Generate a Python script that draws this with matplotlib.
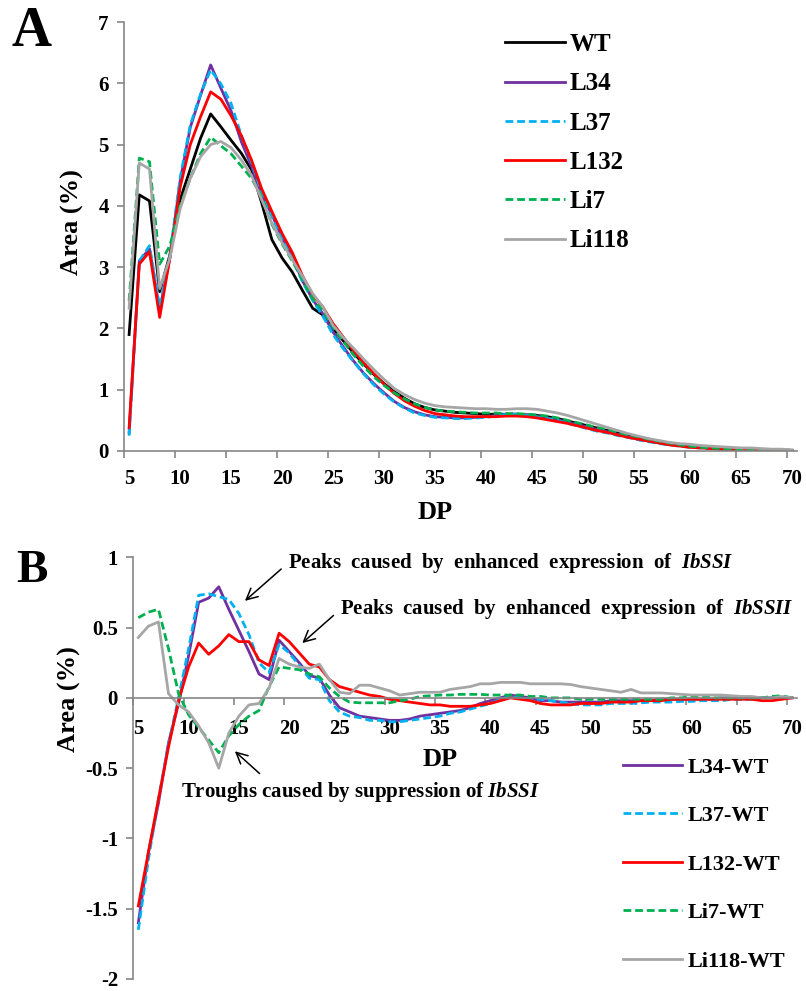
"""Chain-length distribution (DP) of starch: absolute areas and differences vs WT."""

import numpy as np
import matplotlib
matplotlib.use('Agg')
import matplotlib.pyplot as plt
from matplotlib.ticker import FuncFormatter

plt.rcParams['font.family'] = ['Liberation Serif', 'DejaVu Serif']
plt.rcParams['font.weight'] = 'bold'
plt.rcParams['axes.unicode_minus'] = False
plt.rcParams['mathtext.fontset'] = 'custom'
plt.rcParams['mathtext.it'] = 'Liberation Serif:italic:bold'
plt.rcParams['mathtext.rm'] = 'Liberation Serif:bold'

# --- data: degree of polymerisation 5..70 ---
dp = list(range(5, 71))

wt = [1.9, 4.18, 4.08, 2.6, 3.2, 4.1, 4.6, 5.1, 5.5, 5.29, 5.07, 4.86, 4.59, 4.05, 3.45,
      3.15, 2.92, 2.62, 2.33, 2.22, 2.0, 1.8, 1.6, 1.42, 1.25, 1.1, 0.97, 0.86, 0.77, 0.71,
      0.67, 0.65, 0.63, 0.62, 0.61, 0.6, 0.6, 0.6, 0.6, 0.59, 0.58, 0.56, 0.53, 0.49, 0.45,
      0.41, 0.37, 0.33, 0.29, 0.25, 0.21, 0.18, 0.15, 0.12, 0.1, 0.08, 0.06, 0.05, 0.04, 0.03,
      0.02, 0.02, 0.02, 0.01, 0.01, 0.01]
l34 = [0.3, 3.1, 3.3, 2.3, 3.15, 4.4, 5.28, 5.8, 6.3, 5.92, 5.55, 5.05, 4.65, 4.18, 3.86,
       3.48, 3.17, 2.78, 2.47, 2.24, 1.94, 1.7, 1.47, 1.27, 1.1, 0.95, 0.81, 0.71, 0.64, 0.59,
       0.56, 0.55, 0.54, 0.54, 0.55, 0.56, 0.58, 0.6, 0.6, 0.58, 0.56, 0.54, 0.51, 0.47, 0.43,
       0.39, 0.35, 0.31, 0.27, 0.23, 0.19, 0.16, 0.13, 0.11, 0.09, 0.07, 0.06, 0.05, 0.04, 0.03,
       0.02, 0.02, 0.02, 0.01, 0.01, 0.01]
l37 = [0.25, 3.1, 3.35, 2.35, 3.2, 4.45, 5.32, 5.82, 6.22, 5.99, 5.67, 5.15, 4.72, 4.23, 3.83,
       3.47, 3.15, 2.76, 2.46, 2.2, 1.9, 1.67, 1.46, 1.26, 1.08, 0.93, 0.8, 0.7, 0.62, 0.58,
       0.55, 0.54, 0.53, 0.53, 0.54, 0.55, 0.57, 0.6, 0.6, 0.58, 0.56, 0.53, 0.5, 0.45, 0.41,
       0.36, 0.32, 0.29, 0.25, 0.22, 0.18, 0.15, 0.12, 0.1, 0.08, 0.06, 0.05, 0.04, 0.03, 0.03,
       0.02, 0.02, 0.02, 0.01, 0.01, 0.01]
l132 = [0.38, 3.05, 3.25, 2.18, 3.15, 4.3, 5.0, 5.45, 5.86, 5.74, 5.47, 5.15, 4.75, 4.28, 3.91,
        3.55, 3.24, 2.86, 2.55, 2.35, 2.08, 1.86, 1.64, 1.44, 1.26, 1.09, 0.94, 0.82, 0.73, 0.66,
        0.61, 0.59, 0.57, 0.56, 0.56, 0.56, 0.56, 0.57, 0.57, 0.56, 0.54, 0.51, 0.48, 0.45, 0.41,
        0.37, 0.33, 0.3, 0.26, 0.22, 0.19, 0.16, 0.13, 0.1, 0.08, 0.06, 0.05, 0.04, 0.03, 0.02,
        0.02, 0.02, 0.01, 0.01, 0.01, 0.01]
li7 = [2.45, 4.78, 4.72, 3.05, 3.35, 4.0, 4.45, 4.85, 5.12, 4.98, 4.85, 4.65, 4.45, 4.15, 3.7,
       3.38, 3.1, 2.8, 2.48, 2.3, 2.02, 1.79, 1.57, 1.38, 1.21, 1.07, 0.95, 0.85, 0.77, 0.71,
       0.67, 0.65, 0.64, 0.63, 0.62, 0.62, 0.62, 0.61, 0.61, 0.6, 0.59, 0.57, 0.54, 0.5, 0.46,
       0.42, 0.38, 0.35, 0.3, 0.26, 0.23, 0.19, 0.16, 0.13, 0.1, 0.08, 0.06, 0.05, 0.04, 0.03,
       0.02, 0.02, 0.02, 0.02, 0.02, 0.02]
li118 = [2.33, 4.7, 4.6, 2.65, 3.15, 3.95, 4.45, 4.8, 5.0, 5.05, 4.95, 4.75, 4.5, 4.1, 3.72,
         3.4, 3.12, 2.85, 2.57, 2.35, 2.05, 1.85, 1.68, 1.5, 1.33, 1.17, 1.02, 0.92, 0.84, 0.78,
         0.74, 0.72, 0.71, 0.7, 0.69, 0.69, 0.68, 0.68, 0.69, 0.69, 0.68, 0.65, 0.62, 0.58, 0.53,
         0.48, 0.43, 0.38, 0.33, 0.28, 0.24, 0.2, 0.17, 0.14, 0.12, 0.11, 0.09, 0.08, 0.07, 0.06,
         0.05, 0.05, 0.04, 0.03, 0.03, 0.02]

d_l34 = [-1.6, -1.1, -0.75, -0.32, -0.04, 0.3, 0.68, 0.71, 0.79, 0.63, 0.48, 0.33, 0.17, 0.13,
         0.41, 0.33, 0.25, 0.16, 0.14, 0.02, -0.07, -0.1, -0.13, -0.14, -0.15, -0.16, -0.16,
         -0.15, -0.13, -0.12, -0.11, -0.1, -0.09, -0.07, -0.04, -0.02, 0.0, 0.02, 0.01, 0.0,
         -0.02, -0.02, -0.03, -0.03, -0.03, -0.03, -0.03, -0.02, -0.02, -0.02, -0.02, -0.02,
         -0.01, -0.01, -0.01, -0.01, -0.01, -0.01, 0.0, 0.0, 0.0, 0.0, 0.0, 0.0, 0.0, 0.0]
d_l37 = [-1.65, -1.15, -0.72, -0.33, 0.0, 0.35, 0.73, 0.74, 0.72, 0.7, 0.6, 0.45, 0.25, 0.18,
         0.38, 0.32, 0.23, 0.14, 0.13, -0.02, -0.1, -0.13, -0.14, -0.16, -0.16, -0.17, -0.17,
         -0.16, -0.15, -0.14, -0.13, -0.11, -0.1, -0.08, -0.06, -0.04, -0.01, 0.01, 0.0, -0.01,
         -0.01, -0.02, -0.03, -0.04, -0.05, -0.05, -0.05, -0.04, -0.04, -0.04, -0.035, -0.03,
         -0.03, -0.03, -0.025, -0.025, -0.02, -0.02, -0.02, -0.01, -0.01, -0.01, 0.0, 0.0, 0.0, 0.0]
d_l132 = [-1.48, -1.1, -0.72, -0.35, -0.02, 0.22, 0.39, 0.31, 0.37, 0.45, 0.4, 0.4, 0.27, 0.23,
          0.46, 0.4, 0.32, 0.24, 0.22, 0.13, 0.08, 0.06, 0.04, 0.02, 0.01, -0.01, -0.02, -0.03,
          -0.04, -0.05, -0.05, -0.06, -0.06, -0.06, -0.05, -0.04, -0.02, 0.0, -0.01, -0.02,
          -0.04, -0.05, -0.05, -0.05, -0.04, -0.04, -0.04, -0.03, -0.03, -0.03, -0.02, -0.02,
          -0.02, -0.01, -0.01, -0.01, -0.01, -0.01, -0.01, -0.01, -0.01, -0.01, -0.02, -0.02,
          -0.01, 0.0]
d_li7 = [0.57, 0.61, 0.63, 0.35, 0.03, -0.12, -0.21, -0.3, -0.39, -0.27, -0.19, -0.13, -0.09,
         0.08, 0.22, 0.21, 0.2, 0.17, 0.15, 0.07, 0.01, -0.03, -0.035, -0.035, -0.035, -0.035,
         -0.02, -0.01, 0.01, 0.015, 0.02, 0.02, 0.025, 0.025, 0.025, 0.02, 0.02, 0.02, 0.02,
         0.01, 0.01, 0.0, 0.0, 0.0, -0.01, -0.01, -0.01, -0.01, -0.01, -0.01, -0.01, -0.01,
         -0.01, 0.0, 0.0, 0.01, 0.01, 0.0, 0.0, 0.0, 0.0, 0.0, 0.0, 0.01, 0.015, 0.0]
d_li118 = [0.43, 0.51, 0.54, 0.03, -0.05, -0.1, -0.2, -0.32, -0.5, -0.25, -0.13, -0.05, -0.04,
           0.07, 0.28, 0.24, 0.22, 0.21, 0.24, 0.13, 0.04, 0.03, 0.09, 0.09, 0.07, 0.05, 0.02,
           0.03, 0.04, 0.04, 0.04, 0.06, 0.07, 0.08, 0.1, 0.1, 0.11, 0.11, 0.11, 0.1, 0.1, 0.1,
           0.1, 0.095, 0.08, 0.07, 0.06, 0.05, 0.04, 0.06, 0.035, 0.035, 0.035, 0.03, 0.025,
           0.02, 0.02, 0.02, 0.02, 0.015, 0.01, 0.01, 0.0, 0.0, 0.01, 0.0]

labels_a = ['WT', 'L34', 'L37', 'L132', 'Li7', 'Li118']
labels_b = ['L34-WT', 'L37-WT', 'L132-WT', 'Li7-WT', 'Li118-WT']

# --- styles ---
DASH = (0, (2.8, 1.4))
styles = {
    'WT':    dict(color='black', ls='-'),
    'L34':   dict(color='#7030A0', ls='-'),
    'L37':   dict(color='#00B0F0', ls=DASH),
    'L132':  dict(color='#FF0000', ls='-'),
    'Li7':   dict(color='#00B050', ls=DASH),
    'Li118': dict(color='#A6A6A6', ls='-'),
}
AXIS_GREY = '#868686'
TICK_FS = 15

W, H = 806, 991
fig = plt.figure(figsize=(W / 100, H / 100), dpi=100)


def px_axes(left, top, right, bottom):
    return fig.add_axes([left / W, 1 - bottom / H, (right - left) / W, (bottom - top) / H])


def style_axes(ax, label_pad):
    for s in ['top', 'right']:
        ax.spines[s].set_visible(False)
    for s in ['left', 'bottom']:
        ax.spines[s].set_color(AXIS_GREY)
        ax.spines[s].set_linewidth(1.2)
    ax.set_xlim(4.5, 70.5)
    ax.set_xticks(np.arange(4.5, 70.6, 5), minor=False)
    ax.set_xticklabels([])
    ax.set_xticks(np.arange(5, 71, 5), minor=True)
    ax.set_xticklabels([str(v) for v in range(5, 71, 5)], minor=True)
    ax.tick_params(axis='x', which='major', direction='out', length=5, color=AXIS_GREY, width=1.2)
    ax.tick_params(axis='x', which='minor', length=0, labelsize=TICK_FS, pad=label_pad)
    ax.tick_params(axis='y', direction='out', length=5, color=AXIS_GREY, width=1.2,
                   labelsize=TICK_FS, pad=6)


# ---------------- Panel A ----------------
ax1 = px_axes(124, 22, 797, 451)
series_a = [wt, l34, l37, l132, li7, li118]
for name, vals in zip(labels_a, series_a):
    st = styles[name]
    ax1.plot(dp, vals, color=st['color'], linestyle=st['ls'], lw=2.0, label=name)
style_axes(ax1, 13)
ax1.set_ylim(0, 7)
ax1.set_yticks(range(0, 8))
ax1.set_xlabel('DP', fontsize=19, fontweight='bold')
ax1.xaxis.set_label_coords(0.462, -0.117)
ax1.set_ylabel('Area (%)', fontsize=19, fontweight='bold')
ax1.yaxis.set_label_coords(-0.059, 0.534)
ax1.legend(loc='upper left', bbox_to_anchor=(505 / W, 1 - 33 / H),
           bbox_transform=fig.transFigure, frameon=False, fontsize=18,
           handlelength=2.4, handletextpad=0.2, labelspacing=0.65,
           borderpad=0, borderaxespad=0)
fig.text(32 / W, 1 - 32 / H, 'A', fontsize=40, fontweight='bold', ha='center', va='center')

# ---------------- Panel B ----------------
ax2 = px_axes(133.3, 557.3, 797, 979)
series_b = [d_l34, d_l37, d_l132, d_li7, d_li118]
for name, vals in zip(labels_b, series_b):
    st = styles[name.replace('-WT', '')]
    ax2.plot(dp, vals, color=st['color'], linestyle=st['ls'], lw=2.0, label=name)
style_axes(ax2, 15)
ax2.spines['bottom'].set_position(('data', 0))
ax2.set_ylim(-2, 1)
ax2.set_yticks([1, 0.5, 0, -0.5, -1, -1.5, -2])
ax2.yaxis.set_major_formatter(FuncFormatter(lambda v, _: '%g' % v))
ax2.set_xlabel('DP', fontsize=19, fontweight='bold')
ax2.xaxis.set_label_coords(0.462, 0.548)
ax2.set_ylabel('Area (%)', fontsize=19, fontweight='bold')
ax2.yaxis.set_label_coords(-0.079, 0.663)
ax2.legend(loc='upper left', bbox_to_anchor=(623 / W, 1 - 757 / H),
           bbox_transform=fig.transFigure, frameon=False, fontsize=16,
           handlelength=2.65, handletextpad=0.27, labelspacing=1.26,
           borderpad=0, borderaxespad=0)
fig.text(32 / W, 1 - 571 / H, 'B', fontsize=34, fontweight='bold', ha='center', va='center')

arrow = dict(arrowstyle='->', color='black', lw=1.1, mutation_scale=20, shrinkA=4, shrinkB=0)
ax2.annotate(r'Peaks  caused  by  enhanced  expression  of  $\mathit{IbSSI}$',
             xy=(15.6, 0.69), xytext=(19.9, 0.96), fontsize=15, fontweight='bold',
             ha='left', va='center', arrowprops=dict(arrow, relpos=(0, 0.5)))
ax2.annotate(r'Peaks  caused  by  enhanced  expression  of  $\mathit{IbSSII}$',
             xy=(21.3, 0.39), xytext=(25.1, 0.63), fontsize=15, fontweight='bold',
             ha='left', va='center', arrowprops=dict(arrow, relpos=(0, 0.5)))
ax2.annotate(r'Troughs caused by suppression of $\mathit{IbSSI}$',
             xy=(14.6, -0.38), xytext=(9.2, -0.67), fontsize=15, fontweight='bold',
             ha='left', va='center', arrowprops=dict(arrow, relpos=(0.24, 1.0)))

fig.savefig('out.png', dpi=100)
